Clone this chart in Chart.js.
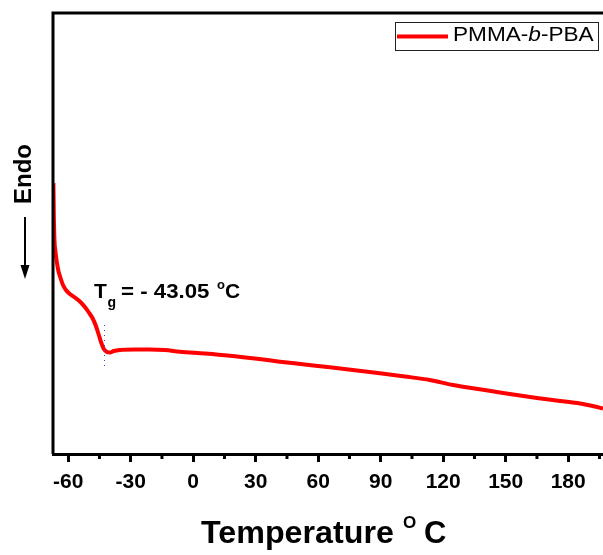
<!DOCTYPE html>
<html>
<head>
    <title>DSC PMMA-b-PBA</title>
    <script src="https://cdn.jsdelivr.net/npm/chart.js"></script>
    <style>
        body {
            margin: 0;
            background: #ffffff;
            overflow: hidden;
        }

        .chart-container {
            width: 603px;
            height: 555px;
            position: relative;
        }
    </style>
</head>
<body>
    <div class="chart-container">
        <canvas id="dsc-chart"></canvas>
    </div>

    <script>
        // DSC trace (heat flow in arbitrary units)
        const temperatures = [-67.1, -66.9, -66.6, -66.1, -65.4, -64.7, -63.7, -62.5, -61.1, -59.2,
            -56.8, -54.4, -52.0, -50.1, -48.1, -46.7, -45.3, -44.1, -42.9, -41.4,
            -40.0, -38.1, -35.2, -28.0, -20.8, -13.6, -6.4, 5.6, 17.6, 29.6,
            41.6, 53.6, 65.6, 77.6, 89.6, 101.6, 113.6, 124.7, 136.7, 148.7,
            165.0, 176.0, 185.6, 192.8, 196.7];
        const heatFlow = [2.71, 2.39, 2.14, 2.02, 1.91, 1.83, 1.76, 1.69, 1.64, 1.60,
            1.565, 1.525, 1.47, 1.415, 1.35, 1.28, 1.19, 1.11, 1.05, 1.02,
            1.015, 1.03, 1.04, 1.045, 1.045, 1.04, 1.023, 1.005, 0.983, 0.955,
            0.923, 0.895, 0.867, 0.837, 0.807, 0.775, 0.74, 0.69, 0.65, 0.61,
            0.56, 0.53, 0.505, 0.475, 0.455];

        const xMin = -67.3;
        const xMax = 196.7;
        const majorStep = 30;
        const minorStep = 15;

        const seriesLabel = ['PMMA-', 'b', '-PBA']; // middle part in italics
        const tg = -43.05;
        const tgMarkerRange = [0.87, 1.29];

        const FONT = '"Liberation Sans", Arial, sans-serif';

        // draws text slightly stretched sideways, returns the advance
        function wideText(ctx, text, x, y, font, stretch) {
            ctx.save();
            ctx.font = font;
            ctx.translate(x, y);
            ctx.scale(stretch, 1);
            ctx.fillText(text, 0, 0);
            const w = ctx.measureText(text).width * stretch;
            ctx.restore();
            return w;
        }

        // extra drawing: frame, minor ticks, labels, legend
        const decorations = {
            id: 'decorations',
            afterDraw(chart) {
                const ctx = chart.ctx;
                const area = chart.chartArea;
                const xs = chart.scales.x;
                const ys = chart.scales.y;

                ctx.save();
                // left + top frame
                ctx.strokeStyle = '#000';
                ctx.lineWidth = 3;
                ctx.beginPath();
                ctx.moveTo(area.left, area.bottom);
                ctx.lineTo(area.left, area.top);
                ctx.lineTo(chart.width, area.top);
                ctx.stroke();

                // minor ticks
                xs.ticks.forEach(t => {
                    if (t.value % majorStep !== 0) {
                        const px = xs.getPixelForValue(t.value);
                        ctx.beginPath();
                        ctx.moveTo(px, area.bottom);
                        ctx.lineTo(px, area.bottom + 5);
                        ctx.stroke();
                    }
                });

                // Tg marker (dotted)
                const tgX = Math.round(xs.getPixelForValue(tg)) + 0.5;
                ctx.strokeStyle = '#3c3cff';
                ctx.lineWidth = 1;
                ctx.setLineDash([1, 4]);
                ctx.beginPath();
                ctx.moveTo(tgX, ys.getPixelForValue(tgMarkerRange[1]));
                ctx.lineTo(tgX, ys.getPixelForValue(tgMarkerRange[0]));
                ctx.stroke();
                ctx.setLineDash([]);

                // Tg label
                ctx.fillStyle = '#000';
                ctx.textBaseline = 'alphabetic';
                ctx.textAlign = 'left';
                const tx = tgX - 10.5;
                wideText(ctx, 'T', tx, 298, 'bold 21px ' + FONT, 1.0);
                wideText(ctx, 'g', tx + 13.5, 307, 'bold 14px ' + FONT, 1.0);
                wideText(ctx, '= - 43.05', tx + 27, 298, 'bold 21px ' + FONT, 1.06);
                wideText(ctx, 'o', tx + 123, 289, 'bold 13px ' + FONT, 1.0);
                wideText(ctx, 'C', tx + 131, 298, 'bold 21px ' + FONT, 1.0);

                // x title
                let w = wideText(ctx, 'Temperature', 201, 543, 'bold 31px ' + FONT, 1.04);
                wideText(ctx, 'O', 201 + w + 9, 528, 'bold 17px ' + FONT, 1.0);
                wideText(ctx, 'C', 201 + w + 30, 543, 'bold 31px ' + FONT, 1.0);

                // y title + arrow
                ctx.save();
                ctx.translate(31, 174);
                ctx.rotate(-Math.PI / 2);
                ctx.textAlign = 'center';
                ctx.font = 'bold 24px ' + FONT;
                ctx.fillText('Endo', 0, 0);
                ctx.restore();
                ctx.strokeStyle = '#000';
                ctx.lineWidth = 2;
                ctx.beginPath();
                ctx.moveTo(25, 217);
                ctx.lineTo(25, 268);
                ctx.stroke();
                ctx.beginPath();
                ctx.moveTo(20.5, 265);
                ctx.lineTo(29.5, 265);
                ctx.lineTo(25, 279);
                ctx.closePath();
                ctx.fill();

                // legend
                const ds = chart.data.datasets[0];
                ctx.strokeStyle = '#222';
                ctx.lineWidth = 1;
                ctx.strokeRect(395.5, 22.5, 203, 28);
                ctx.strokeStyle = ds.borderColor;
                ctx.lineWidth = 4;
                ctx.beginPath();
                ctx.moveTo(397, 36.5);
                ctx.lineTo(448, 36.5);
                ctx.stroke();
                let lx = 453;
                seriesLabel.forEach((part, i) => {
                    const f = (i === 1 ? 'italic ' : '') + '20px ' + FONT;
                    lx += wideText(ctx, part, lx, 40.5, f, 1.13);
                });
                ctx.restore();
            }
        };

        const ctx = document.getElementById('dsc-chart').getContext('2d');
        const dscChart = new Chart(ctx, {
            type: 'line',
            data: {
                datasets: [{
                    label: seriesLabel.join(''),
                    data: temperatures.map((t, i) => ({ x: t, y: heatFlow[i] })),
                    borderColor: '#ff0000',
                    borderWidth: 4,
                    pointRadius: 0,
                    cubicInterpolationMode: 'monotone',
                    fill: false
                }]
            },
            options: {
                responsive: true,
                maintainAspectRatio: false,
                animation: false,
                layout: {
                    padding: { left: 53, top: 13, right: 0, bottom: 0 }
                },
                plugins: {
                    legend: { display: false },
                    tooltip: { enabled: false }
                },
                scales: {
                    x: {
                        type: 'linear',
                        min: xMin,
                        max: xMax,
                        afterFit: scale => {
                            scale.height = 101;
                            scale.paddingLeft = 0;
                            scale.paddingRight = 0;
                        },
                        afterBuildTicks: scale => {
                            const ticks = [];
                            for (let v = -60; v <= xMax; v += minorStep) ticks.push({ value: v });
                            scale.ticks = ticks;
                        },
                        border: { display: true, color: '#000', width: 3 },
                        grid: {
                            drawOnChartArea: false,
                            drawTicks: true,
                            tickLength: 8,
                            tickWidth: 3,
                            tickColor: c => (c.tick && c.tick.value % majorStep === 0) ? '#000' : 'rgba(0,0,0,0)'
                        },
                        ticks: {
                            autoSkip: false,
                            maxRotation: 0,
                            padding: 8,
                            color: '#000',
                            font: { family: FONT, size: 21, weight: 'bold' },
                            callback: v => (v % majorStep === 0 ? v : '')
                        }
                    },
                    y: {
                        display: false,
                        min: 0,
                        max: 4.41
                    }
                }
            },
            plugins: [decorations]
        });
    </script>
</body>
</html>
